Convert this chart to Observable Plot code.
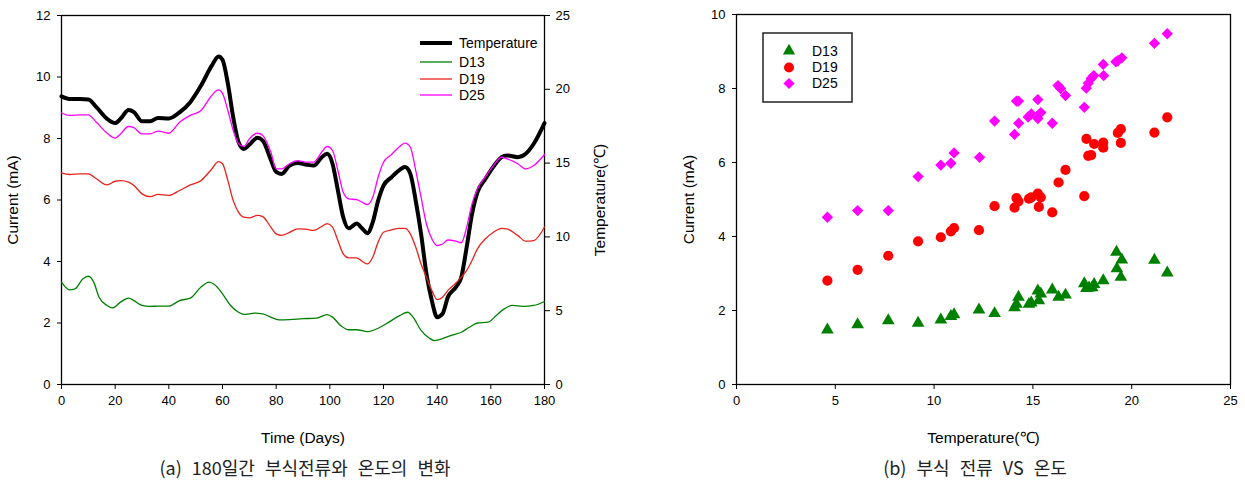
<!DOCTYPE html>
<html>
<head>
<meta charset="utf-8">
<script src="https://cdn.jsdelivr.net/npm/d3@7"></script>
<script src="https://cdn.jsdelivr.net/npm/@observablehq/plot@0.6"></script>
<style>
  html, body { margin: 0; padding: 0; background: #fff; }
  #wrap { position: relative; width: 1245px; height: 482px; overflow: hidden; font-family: "Liberation Sans", Arial, sans-serif; }
  .panel { position: absolute; top: 0; }
  .cap { position: absolute; top: 454px; font-family: "Noto Sans CJK KR", sans-serif; font-size: 18px; color: #222; white-space: nowrap; word-spacing: 6px; transform: translateX(-50%); }
  .leg { position: absolute; top: 0; left: 0; }
</style>
</head>
<body>
<div id="wrap">
  <div id="left" class="panel" style="left:0"></div>
  <div id="right" class="panel" style="left:620px"></div>
  <div class="cap" style="left:305px">(a) 180일간 부식전류와 온도의 변화</div>
  <div class="cap" style="left:975px">(b) 부식 전류 VS 온도</div>
</div>
<script>
// ---------- (a) time series ----------
const days = [0,3,7,10,13,17,20,22,25,27,30,33,36,40,44,48,52,56,58.5,60,62,64,66,68,70,73,75,78,80,82,85,88,91,94,97,99,101,103,105,107,110,112,114,116,118,120,123,126,128,130,132,134,136,138,140,142,144,147,149,151,153,155,158,161,164,166,170,173,176,180];
const temperature = [19.52,19.35,19.35,19.31,18.79,18.0,17.71,18.0,18.6,18.46,17.83,17.83,18.06,18.02,18.44,19.13,20.25,21.6,22.23,22.0,20.38,18.1,16.42,15.96,16.25,16.71,16.52,15.23,14.4,14.27,14.83,15.0,14.9,14.83,15.4,15.63,14.96,13.15,11.33,10.58,10.9,10.58,10.25,11.0,12.46,13.48,14.04,14.54,14.73,14.27,12.46,10.21,7.5,5.69,4.56,4.79,5.92,6.6,7.27,9.31,11.56,13.02,13.94,14.77,15.4,15.52,15.4,15.63,16.31,17.71];
const d25 = [8.83,8.75,8.77,8.77,8.53,8.17,8.01,8.15,8.39,8.35,8.15,8.15,8.24,8.17,8.53,8.75,8.91,9.40,9.58,9.47,8.91,8.26,7.83,7.74,7.99,8.17,8.10,7.56,7.01,7.01,7.18,7.28,7.23,7.23,7.56,7.74,7.61,6.96,6.25,6.04,6.01,5.93,5.85,6.09,6.74,7.23,7.48,7.74,7.85,7.72,6.96,6.09,5.22,4.74,4.52,4.57,4.70,4.66,4.61,5.12,5.88,6.36,6.76,7.12,7.39,7.34,7.18,7.01,7.12,7.48];
const d19 = [6.88,6.83,6.85,6.85,6.69,6.49,6.61,6.63,6.58,6.47,6.20,6.11,6.18,6.15,6.31,6.49,6.63,7.01,7.25,7.18,6.63,5.98,5.60,5.44,5.42,5.50,5.46,5.12,4.90,4.85,4.95,5.06,5.05,5.01,5.14,5.23,5.12,4.68,4.25,4.12,4.12,4.01,3.92,4.14,4.63,4.95,5.03,5.08,5.08,4.90,4.47,3.92,3.49,3.06,2.76,2.84,3.06,3.30,3.49,3.71,4.03,4.41,4.74,4.95,5.08,5.06,4.85,4.66,4.68,5.12];
const days13 = [0,3,5,8,10,12,14,17,19,22,25,27,30,33,36,40,44,48,52,55,57,60,63,66,68,72,75,78,81,85,90,95,99,101,104,107,110,114,118,122,126,129,131,134,137,139,142,145,149,152,155,159,162,165,168,172,176,180];
const d13 = [3.33,3.08,3.11,3.44,3.52,3.33,2.84,2.57,2.49,2.68,2.81,2.73,2.57,2.54,2.55,2.55,2.73,2.81,3.17,3.33,3.25,2.95,2.57,2.35,2.28,2.32,2.30,2.19,2.10,2.11,2.14,2.16,2.27,2.19,1.92,1.78,1.78,1.72,1.83,2.03,2.24,2.35,2.19,1.76,1.51,1.43,1.49,1.59,1.70,1.86,2.00,2.03,2.24,2.46,2.57,2.54,2.57,2.70];
const dayTicks = [0,20,40,60,80,100,120,140,160,180];
const currentTicks = [0,2,4,6,8,10,12];
const tempTicks = [0,5,10,15,20,25];

// ---------- (b) scatter ----------
const t13 = [4.60,6.13,7.68,9.19,10.34,10.85,11.01,12.27,13.06,14.07,14.17,14.27,14.80,14.92,15.25,15.30,15.40,15.98,16.30,16.65,17.60,17.71,17.84,18.00,18.10,18.56,19.23,19.25,19.50,19.45,21.15,21.80];
const c13 = [1.48,1.62,1.73,1.66,1.75,1.84,1.89,2.02,1.92,2.08,2.17,2.36,2.17,2.21,2.53,2.27,2.45,2.56,2.36,2.42,2.73,2.60,2.61,2.62,2.71,2.81,3.58,3.13,3.37,2.90,3.36,3.02];
const t19 = [4.60,6.13,7.68,9.19,10.34,10.85,11.01,12.27,13.06,14.07,14.17,14.27,14.80,14.92,15.25,15.30,15.40,15.98,16.30,16.65,17.60,17.71,17.80,17.95,18.10,18.56,18.56,19.30,19.45,19.45,21.15,21.80];
const c19 = [2.81,3.10,3.48,3.87,3.98,4.14,4.23,4.17,4.82,4.78,5.04,4.95,5.02,5.06,5.16,4.80,5.06,4.65,5.46,5.80,5.09,6.64,6.18,6.20,6.50,6.54,6.40,6.80,6.90,6.53,6.81,7.22];
const t25 = [4.60,6.13,7.68,9.19,10.34,10.85,11.01,12.30,13.06,14.07,14.17,14.27,14.28,14.76,14.92,15.25,15.25,15.40,15.98,16.27,16.40,16.65,17.60,17.70,17.80,17.95,18.08,18.56,18.58,19.20,19.30,19.50,21.15,21.80];
const c25 = [4.52,4.70,4.70,5.62,5.93,5.98,6.26,6.14,7.12,6.76,7.66,7.66,7.06,7.23,7.31,7.70,7.19,7.35,7.06,8.08,8.00,7.81,7.49,8.01,8.14,8.27,8.35,8.65,8.35,8.72,8.75,8.83,9.22,9.48];
const scatterXTicks = [0,5,10,15,20,25];
const scatterYTicks = [0,2,4,6,8,10];

const GREEN = "#008000", RED = "#ff0000", MAG = "#ff00ff", LRED = "#e8221c";
const baseStyle = {fontFamily: "'Liberation Sans', Arial, sans-serif", fontSize: "13px", background: "transparent", color: "#000", overflow: "visible"};

const ratio = 12 / 25; // temperature -> current axis mapping
const ts = days.map((d, i) => ({d, T: temperature[i], D25: d25[i], D19: d19[i]}));
const ts13 = days13.map((d, i) => ({d, v: d13[i]}));
const CURVE = "monotone-x";

const left = Plot.plot({
  width: 620, height: 450,
  marginLeft: 61, marginRight: 76, marginTop: 15, marginBottom: 66,
  style: baseStyle,
  x: {domain: [0, 180]},
  y: {domain: [0, 12]},
  marks: [
    Plot.frame({stroke: "#000", strokeWidth: 1.3}),
    Plot.axisX(dayTicks, {tickSize: 5, tickPadding: 6, label: "Time (Days)", labelAnchor: "center", labelArrow: "none", labelOffset: 58}),
    Plot.axisY(currentTicks, {anchor: "left", tickSize: 4, tickPadding: 7, label: "Current (mA)", labelAnchor: "center", labelArrow: "none", labelOffset: 55}),
    Plot.axisY(tempTicks.map(t => t * ratio), {anchor: "right", tickSize: 5, tickPadding: 6, tickFormat: v => String(Math.round(v / ratio)), label: "Temperature(℃)", labelAnchor: "center", labelArrow: "none", labelOffset: 60}),
    Plot.line(ts, {x: "d", y: r => r.T * ratio, stroke: "#000", strokeWidth: 4, curve: CURVE}),
    Plot.line(ts13, {x: "d", y: "v", stroke: GREEN, strokeWidth: 1.3, curve: CURVE}),
    Plot.line(ts, {x: "d", y: "D19", stroke: LRED, strokeWidth: 1.3, curve: CURVE}),
    Plot.line(ts, {x: "d", y: "D25", stroke: MAG, strokeWidth: 1.3, curve: CURVE})
  ]
});
document.getElementById("left").appendChild(left);

const right = Plot.plot({
  width: 625, height: 450,
  marginLeft: 116, marginRight: 15, marginTop: 14, marginBottom: 66,
  style: baseStyle,
  x: {domain: [0, 25]},
  y: {domain: [0, 10]},
  marks: [
    Plot.frame({stroke: "#000", strokeWidth: 1.3}),
    Plot.axisX(scatterXTicks, {tickSize: 5, tickPadding: 6, label: "Temperature(℃)", labelAnchor: "center", labelArrow: "none", labelOffset: 58}),
    Plot.axisY(scatterYTicks, {anchor: "left", tickSize: 4, tickPadding: 7, label: "Current (mA)", labelAnchor: "center", labelArrow: "none", labelOffset: 54}),
    Plot.dot(t13.map((t, i) => ({t, c: c13[i]})), {x: "t", y: "c", symbol: "triangle", r: 4.7, fill: GREEN, stroke: "none"}),
    Plot.dot(t19.map((t, i) => ({t, c: c19[i]})), {x: "t", y: "c", symbol: "circle", r: 5.1, fill: RED, stroke: "none"}),
    Plot.dot(t25.map((t, i) => ({t, c: c25[i]})), {x: "t", y: "c", symbol: "diamond2", r: 5.1, fill: MAG, stroke: "none"})
  ]
});
document.getElementById("right").appendChild(right);

// axis title font sizes
for (const svg of [left, right]) {
  d3.select(svg).selectAll("text").filter(function() { return /Time|Current|Temperature/.test(this.textContent); }).attr("font-size", 15.5);
}

// ---------- legends (overlay) ----------
const wrap = d3.select("#wrap");
const legL = wrap.append("svg").attr("class", "leg").attr("width", 1245).attr("height", 482)
  .style("font-family", "'Liberation Sans', Arial, sans-serif").style("font-size", "14px");
const lItems = [["Temperature", "#000", 4, 43], ["D13", GREEN, 1.3, 62], ["D19", LRED, 1.3, 79], ["D25", MAG, 1.3, 95]];
for (const [name, col, w, y] of lItems) {
  legL.append("line").attr("x1", 420).attr("x2", 452).attr("y1", y).attr("y2", y).attr("stroke", col).attr("stroke-width", w);
  legL.append("text").attr("x", 459).attr("y", y).attr("dy", "0.35em").text(name);
}
legL.append("rect").attr("x", 763).attr("y", 33).attr("width", 89).attr("height", 69).attr("fill", "none").attr("stroke", "#222").attr("stroke-width", 1.5);
const rItems = [["D13", GREEN, d3.symbolTriangle, 66, 51], ["D19", RED, d3.symbolCircle, 80, 67.5], ["D25", MAG, d3.symbolDiamond2, 80, 83.5]];
for (const [name, col, sym, size, y] of rItems) {
  legL.append("path").attr("d", d3.symbol(sym, size)()).attr("transform", `translate(789,${y})`).attr("fill", col);
  legL.append("text").attr("x", 812).attr("y", y).attr("dy", "0.35em").text(name);
}
</script>
</body>
</html>
